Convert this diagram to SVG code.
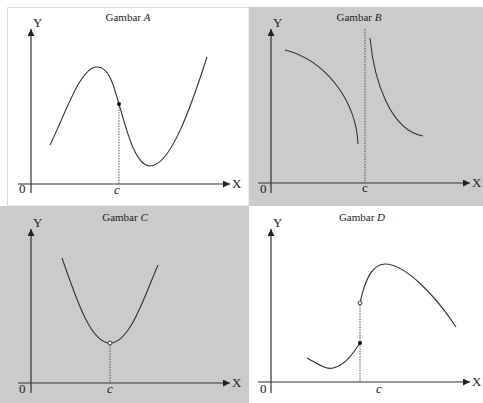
<svg xmlns="http://www.w3.org/2000/svg" width="483" height="403" viewBox="0 0 483 403">
<defs>
<style>
.ax{stroke:#333;stroke-width:1.2;fill:none}
.cv{stroke:#333;stroke-width:1.1;fill:none}
.ds{stroke:#444;stroke-width:0.9;stroke-dasharray:1.5,1.2;fill:none}
.t{font-family:"Liberation Serif","Times New Roman",serif;fill:#222}
.ti{font-size:11px;text-anchor:middle}
.lb{font-size:13px}
.it{font-style:italic}
</style>
<marker id="ah" viewBox="0 0 10 10" refX="10" refY="5" markerWidth="7" markerHeight="7" markerUnits="userSpaceOnUse" orient="auto">
<path d="M0,0 L10,5 L0,10 Z" fill="#222"/>
</marker>
</defs>
<rect x="0" y="0" width="483" height="403" fill="#fff"/>
<rect x="7.5" y="7.5" width="241.5" height="198.5" fill="#fff" stroke="#ddd" stroke-width="1"/>
<rect x="249" y="7" width="234" height="199" fill="#cbcbcb"/>
<rect x="0" y="206" width="249" height="197" fill="#cbcbcb"/>
<rect x="249" y="206" width="234" height="197" fill="#fff"/>

<g id="panelA">
<text class="t ti" x="128" y="21">Gambar <tspan class="it">A</tspan></text>
<g class="connectors">
<line class="ax" x1="31" y1="193" x2="31" y2="29" marker-end="url(#ah)"/>
<line class="ax" x1="18" y1="184" x2="230" y2="184" marker-end="url(#ah)"/>
</g>
<text class="t lb" x="33" y="27">Y</text>
<text class="t lb" x="232" y="188">X</text>
<text class="t lb" x="19" y="193">0</text>
<path class="cv" d="M50,145 C65,115 80,67 97,67 C110,67 114,88 119,104 C126,128 135,166 150,166 C170,166 190,110 207,57"/>
<line class="ds" x1="119" y1="104" x2="119" y2="184"/>
<circle cx="119" cy="104" r="2" fill="#111"/>
<text class="t lb it" x="117" y="194" text-anchor="middle">c</text>
</g>

<g id="panelB">
<text class="t ti" x="359" y="21">Gambar <tspan class="it">B</tspan></text>
<g class="connectors">
<line class="ax" x1="271" y1="193" x2="271" y2="29" marker-end="url(#ah)"/>
<line class="ax" x1="258" y1="183" x2="470" y2="183" marker-end="url(#ah)"/>
</g>
<text class="t lb" x="273" y="27">Y</text>
<text class="t lb" x="472" y="187">X</text>
<text class="t lb" x="260" y="193">0</text>
<line class="ds" x1="365" y1="29" x2="365" y2="183"/>
<path class="cv" d="M285,50 C325,60 356,100 358,144"/>
<path class="cv" d="M370,38 C374,80 390,130 423,136"/>
<text class="t lb" x="365" y="192" text-anchor="middle">c</text>
</g>

<g id="panelC">
<text class="t ti" x="125" y="221">Gambar <tspan class="it">C</tspan></text>
<g class="connectors">
<line class="ax" x1="31" y1="393" x2="31" y2="229" marker-end="url(#ah)"/>
<line class="ax" x1="18" y1="383" x2="230" y2="383" marker-end="url(#ah)"/>
</g>
<text class="t lb" x="33" y="227">Y</text>
<text class="t lb" x="232" y="387">X</text>
<text class="t lb" x="19" y="393">0</text>
<path class="cv" d="M62,258 C75,295 90,343 110,343 C130,343 145,295 158,265"/>
<line class="ds" x1="110" y1="345" x2="110" y2="383"/>
<circle cx="110" cy="343" r="2" fill="#fff" stroke="#222" stroke-width="0.9"/>
<text class="t lb it" x="110" y="393" text-anchor="middle">c</text>
</g>

<g id="panelD">
<text class="t ti" x="362" y="221">Gambar <tspan class="it">D</tspan></text>
<g class="connectors">
<line class="ax" x1="271" y1="393" x2="271" y2="229" marker-end="url(#ah)"/>
<line class="ax" x1="258" y1="382" x2="470" y2="382" marker-end="url(#ah)"/>
</g>
<text class="t lb" x="273" y="227">Y</text>
<text class="t lb" x="472" y="386">X</text>
<text class="t lb" x="260" y="393">0</text>
<path class="cv" d="M307,358 C318,364 326,370 333,368 C345,365 352,355 360,343"/>
<path class="cv" d="M360,303 C365,280 372,264 385,264 C405,264 435,295 456,327"/>
<line class="ds" x1="360" y1="305" x2="360" y2="382"/>
<circle cx="360" cy="343" r="2" fill="#111"/>
<circle cx="360" cy="303" r="2" fill="#fff" stroke="#222" stroke-width="0.9"/>
<text class="t lb it" x="379" y="393" text-anchor="middle">c</text>
</g>
</svg>
